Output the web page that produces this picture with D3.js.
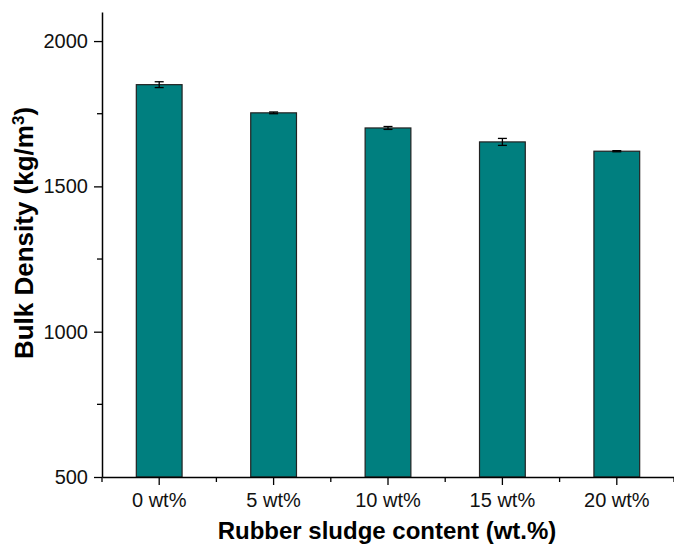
<!DOCTYPE html>
<html>
<head>
<meta charset="utf-8">
<script src="https://cdn.jsdelivr.net/npm/d3@7"></script>
<style>
  body { margin: 0; background: #fff; }
  svg text { font-family: "Liberation Sans", Arial, sans-serif; }
</style>
</head>
<body>
<div id="chart-area"></div>
<script>
// Data
const categories = ["0 wt%", "5 wt%", "10 wt%", "15 wt%", "20 wt%"];
const density = [1850, 1753, 1701, 1653, 1621];
const densityErr = [10, 3, 5, 12, 2];
const yTicks = [500, 1000, 1500, 2000];
const yMinorTicks = [750, 1250, 1750];

const W = 674, H = 550;
const margin = { left: 102, right: 674, top: 12, bottom: 477 };

const svg = d3.select("#chart-area")
  .append("svg")
    .attr("width", W)
    .attr("height", H);

// scales
const x = d3.scaleBand()
  .domain(categories)
  .range([margin.left, margin.right])
  .paddingInner(0.6)
  .paddingOuter(0.3);

const y = d3.scaleLinear()
  .domain([500, 2100])
  .range([margin.bottom, margin.top]);

const data = categories.map((c, i) => ({ cat: c, v: density[i], e: densityErr[i] }));

// bars
svg.selectAll("rect.bar")
  .data(data)
  .enter().append("rect")
    .attr("class", "bar")
    .attr("x", d => x(d.cat))
    .attr("y", d => y(d.v))
    .attr("width", x.bandwidth())
    .attr("height", d => y(500) - y(d.v))
    .attr("fill", "#007f7f")
    .attr("stroke", "#222")
    .attr("stroke-width", 1.2);

// error bars
const cap = 4.5;
const eb = svg.selectAll("g.err")
  .data(data)
  .enter().append("g")
    .attr("class", "err")
    .attr("stroke", "#000")
    .attr("stroke-width", 1.3);
eb.append("line")
  .attr("x1", d => x(d.cat) + x.bandwidth() / 2)
  .attr("x2", d => x(d.cat) + x.bandwidth() / 2)
  .attr("y1", d => y(d.v + d.e))
  .attr("y2", d => y(d.v - d.e));
eb.append("line")
  .attr("x1", d => x(d.cat) + x.bandwidth() / 2 - cap)
  .attr("x2", d => x(d.cat) + x.bandwidth() / 2 + cap)
  .attr("y1", d => y(d.v + d.e))
  .attr("y2", d => y(d.v + d.e));
eb.append("line")
  .attr("x1", d => x(d.cat) + x.bandwidth() / 2 - cap)
  .attr("x2", d => x(d.cat) + x.bandwidth() / 2 + cap)
  .attr("y1", d => y(d.v - d.e))
  .attr("y2", d => y(d.v - d.e));

// x axis
const xAxisGroup = svg.append("g")
  .attr("transform", "translate(0," + margin.bottom + ")")
  .call(d3.axisBottom(x).tickSize(8).tickSizeOuter(0).tickPadding(8));

// minor x ticks at category boundaries
const bounds = d3.range(categories.length + 1).map(i => x.range()[0] + i * x.step());
xAxisGroup.selectAll("line.minor")
  .data(bounds)
  .enter().append("line")
    .attr("class", "minor")
    .attr("x1", d => d).attr("x2", d => d)
    .attr("y1", 0).attr("y2", 5)
    .attr("stroke", "#000");

// y axis
const yAxisGroup = svg.append("g")
  .attr("transform", "translate(" + margin.left + ",0)")
  .call(d3.axisLeft(y).tickValues(yTicks).tickFormat(d3.format("d"))
    .tickSize(8).tickSizeOuter(0).tickPadding(6));

yAxisGroup.selectAll("line.minor")
  .data(yMinorTicks)
  .enter().append("line")
    .attr("class", "minor")
    .attr("x1", -5).attr("x2", 0)
    .attr("y1", d => y(d)).attr("y2", d => y(d))
    .attr("stroke", "#000");

[xAxisGroup, yAxisGroup].forEach(g => {
  g.attr("font-size", null).attr("font-family", null);
  g.select(".domain").attr("stroke", "#000").attr("stroke-width", 1.5);
  g.selectAll("line").attr("stroke", "#000").attr("stroke-width", 1.3);
  g.selectAll("text")
    .style("font-size", "20px")
    .style("font-family", "'Liberation Sans', Arial, sans-serif")
    .attr("fill", "#111");
});

// X label
svg.append("text")
  .attr("x", (margin.left + margin.right) / 2 - 1)
  .attr("y", 539)
  .attr("text-anchor", "middle")
  .style("font-size", "24px")
  .attr("font-weight", "bold")
  .text("Rubber sludge content (wt.%)");

// Y label
const yLabel = svg.append("text")
  .attr("transform", "translate(33,233) rotate(-90)")
  .attr("text-anchor", "middle")
  .style("font-size", "26px")
  .attr("font-weight", "bold");
yLabel.append("tspan").text("Bulk Density (kg/m");
yLabel.append("tspan").attr("dy", -9).style("font-size", "17px").text("3");
yLabel.append("tspan").attr("dy", 9).text(")");
</script>
</body>
</html>
